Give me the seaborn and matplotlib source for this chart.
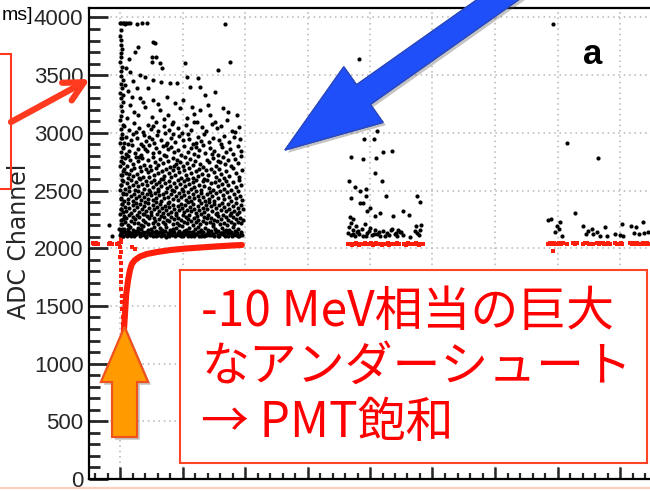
import matplotlib
matplotlib.use("Agg")
import matplotlib.pyplot as plt
from matplotlib import font_manager, patches, patheffects
from matplotlib.ticker import MultipleLocator
import pandas as pd
import seaborn as sns

# ---------------------------------------------------------------- data
# (time, ADC) of the black hits in the first burst
burst1_hits = [
    # saturated row
    (0.00, 3952), (0.02, 3948), (0.04, 3955), (0.06, 3950), (0.08, 3946), (0.10, 3953),
    (0.13, 3949), (0.16, 3951), (0.27, 3947), (0.35, 3950), (0.43, 3953), (1.68, 3943),
    # column at the very start of the burst
    (0.01, 3890), (0.00, 3842), (0.02, 3801), (0.01, 3763), (0.03, 3728), (0.01, 3690),
    (0.02, 3655), (0.00, 3611), (0.03, 3574), (0.01, 3538), (0.02, 3497), (0.04, 3459),
    (0.01, 3421), (0.03, 3386), (0.00, 3344), (0.02, 3302), (0.04, 3268), (0.01, 3229),
    (0.03, 3187), (0.02, 3146), (0.00, 3108), (0.04, 3071), (0.01, 3032), (0.03, 2991),
    (0.02, 2953), (0.00, 2912), (0.04, 2874), (0.01, 2836), (0.03, 2793), (0.02, 2755),
    (0.00, 2716), (0.04, 2672), (0.01, 2633), (0.03, 2592), (0.02, 2551), (0.00, 2509),
    (0.04, 2468), (0.01, 2427), (0.03, 2383), (0.02, 2341), (0.00, 2298), (0.04, 2254),
    (0.01, 2211), (0.03, 2167), (0.02, 2126),
    # sparse upper part
    (0.29, 3745), (0.53, 3788), (0.56, 3779), (0.51, 3658), (0.51, 3615), (0.58, 3658),
    (0.64, 3607), (0.67, 3563), (1.04, 3607), (1.76, 3615), (1.57, 3546), (0.32, 3503),
    (0.16, 3529), (0.40, 3486), (0.53, 3460), (0.66, 3443), (0.80, 3434), (0.91, 3434),
    (1.07, 3486), (1.12, 3400), (1.25, 3477), (1.36, 3330), (1.52, 3356), (1.28, 3400),
    (0.27, 3391), (0.45, 3391), (0.08, 3417), (0.05, 3330), (0.19, 3313), (0.32, 3305),
    (0.53, 3287), (0.75, 3313), (0.88, 3261), (1.01, 3287), (1.15, 3227), (1.28, 3201),
    (1.44, 3158), (1.65, 3218), (1.73, 3184), (1.87, 3158), (1.71, 3115), (1.84, 3011),
    (0.16, 3244), (0.40, 3227), (0.64, 3201), (0.96, 3218), (0.29, 3158), (0.51, 3141),
    (0.77, 3158), (1.07, 3132), (1.23, 3097), (0.85, 3097), (0.11, 3132), (1.52, 3097),
    (0.22, 3178), (0.61, 3252), (0.70, 3121), (1.18, 3160), (1.40, 3245), (0.36, 3270),
    (0.12, 3365), (0.20, 3452), (0.09, 3560), (0.14, 3640), (0.24, 3700),
    # 3000 - 3100
    (0.07, 3062), (0.14, 3021), (0.22, 3088), (0.31, 3045), (0.36, 3007), (0.44, 3071),
    (0.49, 3033), (0.58, 3094), (0.61, 3012), (0.70, 3056), (0.78, 3029), (0.83, 3080),
    (0.92, 3041), (0.99, 3003), (1.06, 3067), (1.13, 3024), (1.19, 3090), (1.31, 3052),
    (1.38, 3015), (1.47, 3076), (1.55, 3038), (1.62, 3060), (1.79, 3019), (1.90, 3049),
    (0.26, 3010), (0.53, 3058),
    # 2900 - 3000
    (0.06, 2914), (0.10, 2968), (0.17, 2937), (0.20, 2991), (0.27, 2952), (0.33, 2905),
    (0.38, 2979), (0.42, 2928), (0.47, 2963), (0.55, 2916), (0.59, 2984), (0.66, 2941),
    (0.72, 2997), (0.75, 2909), (0.81, 2956), (0.88, 2923), (0.94, 2975), (1.01, 2934),
    (1.08, 2988), (1.11, 2947), (1.17, 2902), (1.24, 2966), (1.29, 2931), (1.35, 2994),
    (1.42, 2918), (1.49, 2959), (1.58, 2942), (1.66, 2977), (1.74, 2925), (1.83, 2961),
    (1.92, 2946), (0.13, 2901), (0.51, 2948), (0.85, 2987), (1.21, 2912), (1.61, 2903),
    (0.03, 2955),
    # 2800 - 2900
    (0.05, 2871), (0.09, 2818), (0.15, 2846), (0.19, 2893), (0.24, 2827), (0.29, 2864),
    (0.34, 2809), (0.37, 2882), (0.43, 2841), (0.46, 2897), (0.52, 2823), (0.57, 2868),
    (0.63, 2835), (0.68, 2889), (0.71, 2812), (0.77, 2857), (0.82, 2876), (0.87, 2831),
    (0.93, 2848), (0.97, 2805), (1.03, 2884), (1.09, 2838), (1.14, 2866), (1.18, 2815),
    (1.26, 2851), (1.32, 2895), (1.36, 2827), (1.44, 2873), (1.51, 2842), (1.56, 2806),
    (1.63, 2879), (1.69, 2835), (1.76, 2861), (1.81, 2819), (1.88, 2887), (1.94, 2844),
    (0.12, 2803), (0.40, 2859), (0.74, 2898), (1.22, 2879), (1.47, 2813),
    # 2700 - 2800
    (0.04, 2742), (0.08, 2786), (0.11, 2713), (0.16, 2767), (0.21, 2731), (0.25, 2795),
    (0.28, 2752), (0.32, 2706), (0.35, 2778), (0.39, 2725), (0.45, 2761), (0.48, 2709),
    (0.53, 2789), (0.56, 2744), (0.60, 2718), (0.64, 2772), (0.69, 2736), (0.73, 2799),
    (0.76, 2753), (0.80, 2704), (0.84, 2781), (0.89, 2729), (0.91, 2765), (0.96, 2747),
    (1.00, 2712), (1.04, 2791), (1.07, 2738), (1.12, 2774), (1.16, 2721), (1.20, 2759),
    (1.25, 2796), (1.28, 2733), (1.33, 2708), (1.39, 2769), (1.43, 2745), (1.48, 2783),
    (1.53, 2716), (1.57, 2757), (1.64, 2792), (1.68, 2727), (1.72, 2763), (1.78, 2711),
    (1.84, 2776), (1.89, 2740), (1.93, 2798), (0.30, 2790), (0.86, 2710), (1.60, 2749),
    # 2600 - 2700
    (0.03, 2631), (0.06, 2685), (0.10, 2652), (0.13, 2609), (0.17, 2674), (0.20, 2628),
    (0.23, 2697), (0.27, 2643), (0.30, 2606), (0.33, 2668), (0.36, 2621), (0.41, 2689),
    (0.44, 2657), (0.47, 2614), (0.50, 2679), (0.54, 2636), (0.58, 2693), (0.61, 2648),
    (0.65, 2603), (0.67, 2671), (0.71, 2625), (0.74, 2686), (0.78, 2655), (0.81, 2617),
    (0.85, 2682), (0.88, 2639), (0.92, 2699), (0.95, 2661), (0.98, 2608), (1.02, 2676),
    (1.05, 2633), (1.10, 2694), (1.13, 2650), (1.17, 2612), (1.21, 2669), (1.24, 2627),
    (1.27, 2688), (1.31, 2645), (1.34, 2602), (1.38, 2678), (1.41, 2634), (1.45, 2691),
    (1.50, 2659), (1.54, 2619), (1.59, 2684), (1.62, 2641), (1.67, 2605), (1.70, 2672),
    (1.75, 2629), (1.80, 2696), (1.85, 2653), (1.91, 2615), (1.95, 2681), (0.15, 2640),
    (1.08, 2603),
    # 2500 - 2600
    (0.02, 2546), (0.05, 2583), (0.08, 2517), (0.11, 2569), (0.14, 2532), (0.18, 2594),
    (0.21, 2551), (0.24, 2508), (0.26, 2576), (0.29, 2539), (0.32, 2597), (0.35, 2561),
    (0.38, 2514), (0.41, 2582), (0.43, 2544), (0.46, 2505), (0.49, 2571), (0.52, 2528),
    (0.55, 2589), (0.57, 2553), (0.60, 2511), (0.63, 2577), (0.66, 2536), (0.69, 2598),
    (0.72, 2562), (0.75, 2519), (0.78, 2585), (0.80, 2541), (0.83, 2503), (0.86, 2567),
    (0.90, 2529), (0.93, 2592), (0.96, 2555), (0.99, 2516), (1.02, 2579), (1.04, 2537),
    (1.07, 2599), (1.10, 2558), (1.13, 2512), (1.16, 2574), (1.19, 2533), (1.22, 2595),
    (1.26, 2549), (1.29, 2507), (1.32, 2581), (1.35, 2543), (1.39, 2588), (1.42, 2521),
    (1.46, 2565), (1.49, 2502), (1.52, 2576), (1.56, 2538), (1.59, 2593), (1.63, 2556),
    (1.66, 2513), (1.70, 2584), (1.73, 2547), (1.77, 2509), (1.81, 2571), (1.86, 2535),
    (1.90, 2590), (1.94, 2552),
    # 2400 - 2500
    (0.02, 2436), (0.04, 2481), (0.07, 2413), (0.09, 2467), (0.12, 2428), (0.15, 2494),
    (0.17, 2451), (0.20, 2407), (0.22, 2472), (0.25, 2439), (0.28, 2498), (0.30, 2455),
    (0.33, 2416), (0.35, 2483), (0.38, 2442), (0.40, 2404), (0.43, 2469), (0.45, 2431),
    (0.48, 2491), (0.50, 2458), (0.53, 2419), (0.56, 2476), (0.58, 2437), (0.61, 2499),
    (0.63, 2461), (0.66, 2410), (0.68, 2473), (0.71, 2434), (0.73, 2488), (0.76, 2447),
    (0.79, 2402), (0.81, 2466), (0.84, 2425), (0.87, 2495), (0.89, 2452), (0.92, 2414),
    (0.94, 2479), (0.97, 2440), (1.00, 2497), (1.03, 2459), (1.05, 2421), (1.08, 2484),
    (1.11, 2445), (1.14, 2408), (1.16, 2470), (1.19, 2432), (1.22, 2493), (1.25, 2456),
    (1.27, 2417), (1.30, 2480), (1.33, 2443), (1.36, 2406), (1.39, 2468), (1.42, 2429),
    (1.44, 2490), (1.47, 2453), (1.50, 2411), (1.53, 2475), (1.57, 2438), (1.60, 2496),
    (1.64, 2460), (1.67, 2423), (1.71, 2486), (1.74, 2448), (1.78, 2409), (1.82, 2471),
    (1.85, 2433), (1.88, 2492), (1.92, 2457), (1.95, 2418),
    # 2300 - 2400
    (0.01, 2338), (0.03, 2384), (0.05, 2312), (0.08, 2361), (0.10, 2327), (0.13, 2396),
    (0.15, 2349), (0.18, 2305), (0.20, 2373), (0.23, 2331), (0.25, 2392), (0.27, 2356),
    (0.30, 2318), (0.32, 2380), (0.35, 2342), (0.37, 2301), (0.39, 2367), (0.42, 2325),
    (0.44, 2389), (0.47, 2352), (0.49, 2314), (0.52, 2376), (0.54, 2337), (0.57, 2398),
    (0.59, 2360), (0.62, 2321), (0.64, 2385), (0.67, 2346), (0.69, 2307), (0.72, 2370),
    (0.74, 2333), (0.77, 2393), (0.79, 2355), (0.82, 2316), (0.84, 2378), (0.87, 2340),
    (0.89, 2303), (0.92, 2364), (0.94, 2328), (0.97, 2387), (0.99, 2350), (1.02, 2311),
    (1.04, 2374), (1.07, 2335), (1.09, 2397), (1.12, 2358), (1.14, 2320), (1.17, 2382),
    (1.19, 2344), (1.22, 2306), (1.24, 2369), (1.27, 2330), (1.29, 2391), (1.32, 2353),
    (1.34, 2315), (1.37, 2377), (1.39, 2339), (1.42, 2399), (1.45, 2362), (1.47, 2323),
    (1.50, 2386), (1.53, 2347), (1.55, 2309), (1.58, 2371), (1.61, 2334), (1.63, 2394),
    (1.66, 2357), (1.69, 2319), (1.72, 2381), (1.74, 2343), (1.77, 2304), (1.80, 2366),
    (1.83, 2326), (1.85, 2388), (1.88, 2351), (1.91, 2313), (1.93, 2375), (1.96, 2336),
    # 2200 - 2300
    (0.01, 2247), (0.03, 2212), (0.06, 2283), (0.08, 2229), (0.10, 2264), (0.13, 2205),
    (0.15, 2291), (0.17, 2238), (0.20, 2272), (0.22, 2216), (0.24, 2255), (0.27, 2288),
    (0.29, 2223), (0.31, 2269), (0.33, 2202), (0.36, 2244), (0.38, 2297), (0.40, 2231),
    (0.43, 2276), (0.45, 2210), (0.47, 2258), (0.50, 2285), (0.52, 2219), (0.54, 2263),
    (0.56, 2236), (0.59, 2294), (0.61, 2207), (0.63, 2250), (0.66, 2281), (0.68, 2226),
    (0.70, 2267), (0.72, 2213), (0.75, 2242), (0.77, 2299), (0.79, 2234), (0.82, 2275),
    (0.84, 2208), (0.86, 2253), (0.89, 2289), (0.91, 2221), (0.93, 2261), (0.95, 2204),
    (0.98, 2246), (1.00, 2292), (1.02, 2228), (1.05, 2270), (1.07, 2215), (1.09, 2257),
    (1.11, 2286), (1.14, 2239), (1.16, 2201), (1.18, 2266), (1.21, 2224), (1.23, 2280),
    (1.25, 2248), (1.28, 2211), (1.30, 2295), (1.32, 2233), (1.34, 2274), (1.37, 2218),
    (1.39, 2259), (1.41, 2287), (1.44, 2227), (1.46, 2262), (1.48, 2206), (1.50, 2243),
    (1.53, 2298), (1.55, 2235), (1.57, 2278), (1.60, 2214), (1.62, 2252), (1.64, 2290),
    (1.67, 2222), (1.69, 2268), (1.71, 2203), (1.73, 2245), (1.76, 2284), (1.78, 2230),
    (1.80, 2273), (1.83, 2209), (1.85, 2256), (1.87, 2293), (1.89, 2225), (1.92, 2265),
    (1.94, 2217), (1.96, 2249),
    # 2100 - 2200
    (0.00, 2118), (0.02, 2152), (0.04, 2104), (0.05, 2137), (0.07, 2171), (0.09, 2126),
    (0.11, 2109), (0.12, 2163), (0.14, 2141), (0.16, 2185), (0.18, 2113), (0.19, 2131),
    (0.21, 2158), (0.23, 2102), (0.25, 2147), (0.26, 2122), (0.28, 2176), (0.30, 2135),
    (0.32, 2107), (0.34, 2166), (0.35, 2128), (0.37, 2193), (0.39, 2116), (0.41, 2144),
    (0.42, 2101), (0.44, 2155), (0.46, 2133), (0.48, 2119), (0.49, 2169), (0.51, 2140),
    (0.53, 2106), (0.55, 2182), (0.57, 2124), (0.58, 2150), (0.60, 2111), (0.62, 2138),
    (0.64, 2174), (0.65, 2103), (0.67, 2160), (0.69, 2129), (0.71, 2115), (0.72, 2147),
    (0.74, 2188), (0.76, 2121), (0.78, 2105), (0.80, 2157), (0.81, 2136), (0.83, 2112),
    (0.85, 2168), (0.87, 2143), (0.88, 2108), (0.90, 2179), (0.92, 2126), (0.94, 2153),
    (0.95, 2117), (0.97, 2134), (0.99, 2196), (1.01, 2110), (1.03, 2149), (1.04, 2123),
    (1.06, 2161), (1.08, 2102), (1.10, 2139), (1.11, 2172), (1.13, 2114), (1.15, 2145),
    (1.17, 2130), (1.18, 2106), (1.20, 2164), (1.22, 2120), (1.24, 2187), (1.26, 2137),
    (1.27, 2109), (1.29, 2154), (1.31, 2125), (1.33, 2142), (1.34, 2103), (1.36, 2175),
    (1.38, 2118), (1.40, 2159), (1.41, 2132), (1.43, 2111), (1.45, 2148), (1.47, 2127),
    (1.49, 2190), (1.50, 2104), (1.52, 2166), (1.54, 2139), (1.56, 2116), (1.57, 2151),
    (1.59, 2108), (1.61, 2134), (1.63, 2178), (1.64, 2121), (1.66, 2146), (1.68, 2102),
    (1.70, 2162), (1.72, 2129), (1.73, 2113), (1.75, 2156), (1.77, 2140), (1.79, 2107),
    (1.80, 2183), (1.82, 2124), (1.84, 2150), (1.86, 2115), (1.87, 2136), (1.89, 2170),
    (1.91, 2105), (1.93, 2145), (1.95, 2119),
    # dense lower edge
    (0.01, 2128), (0.05, 2110), (0.09, 2141), (0.13, 2119), (0.17, 2103), (0.21, 2134),
    (0.25, 2125), (0.29, 2146), (0.33, 2112), (0.37, 2138), (0.41, 2106), (0.45, 2131),
    (0.49, 2121), (0.53, 2143), (0.57, 2108), (0.61, 2127), (0.65, 2139), (0.69, 2115),
    (0.73, 2101), (0.77, 2133), (0.81, 2124), (0.85, 2148), (0.89, 2113), (0.93, 2136),
    (0.97, 2105), (1.01, 2129), (1.05, 2142), (1.09, 2118), (1.13, 2109), (1.17, 2137),
    (1.21, 2123), (1.25, 2145), (1.29, 2104), (1.33, 2130), (1.37, 2116), (1.41, 2140),
    (1.45, 2111), (1.49, 2126), (1.53, 2149), (1.57, 2107), (1.61, 2135), (1.65, 2120),
    (1.69, 2144), (1.73, 2102), (1.77, 2132), (1.81, 2117), (1.85, 2139), (1.89, 2110),
    (1.93, 2127),
    # just before the burst
    (-0.18, 2200), (-0.13, 2105), (-0.02, 2166),
]

# (time, ADC) of the black hits in the second burst
burst2_hits = [
    (3.82, 3641), (4.11, 3020), (3.90, 2951), (4.06, 2951), (3.70, 2795), (3.89, 2770),
    (4.10, 2778), (4.21, 2830), (4.35, 2847), (4.08, 2649), (4.19, 2580), (3.66, 2580),
    (3.76, 2528), (3.84, 2493), (3.94, 2511), (3.70, 2433), (3.94, 2450), (4.26, 2450),
    (3.84, 2390), (3.89, 2390), (4.00, 2347), (3.95, 2321), (4.16, 2304), (4.75, 2450),
    (4.80, 2399), (4.53, 2321), (4.62, 2286), (4.08, 2278), (4.37, 2278), (3.68, 2269),
    (3.73, 2252), (3.70, 2217), (3.78, 2192), (3.92, 2209), (4.74, 2192), (4.82, 2200),
    (3.65, 2131), (3.70, 2112), (3.73, 2158), (3.76, 2104), (3.79, 2143), (3.82, 2122),
    (3.87, 2167), (3.89, 2109), (3.95, 2136), (3.98, 2151), (4.03, 2118), (4.08, 2162),
    (4.11, 2127), (4.16, 2105), (4.21, 2147), (4.27, 2133), (4.30, 2114), (4.35, 2169),
    (4.40, 2124), (4.43, 2108), (4.45, 2155), (4.50, 2139), (4.53, 2117), (4.64, 2101),
    (4.72, 2146), (4.75, 2128), (4.80, 2160),
    (3.67, 2180), (3.72, 2121), (3.80, 2150), (3.93, 2108), (4.00, 2175), (4.06, 2124),
    (4.14, 2139), (4.24, 2110), (4.33, 2162), (4.42, 2129), (4.48, 2145), (4.78, 2118),
]

# (time, ADC) of the black hits in the third burst
burst3_hits = [
    (6.93, 3943), (7.15, 2908), (7.65, 2778), (7.28, 2304), (6.85, 2243), (6.90, 2252),
    (7.04, 2226), (6.99, 2192), (7.02, 2166), (7.07, 2105), (6.96, 2140), (7.41, 2192),
    (7.55, 2166), (7.49, 2148), (7.46, 2123), (7.57, 2123), (7.76, 2183), (7.63, 2140),
    (7.68, 2105), (7.79, 2105), (8.03, 2209), (7.92, 2123), (8.00, 2114), (8.05, 2105),
    (8.18, 2192), (8.26, 2183), (8.37, 2226), (8.22, 2131), (8.30, 2123), (8.38, 2131),
    (8.45, 2140),
]

# centre line of the undershoot after the first burst (time, ADC)
undershoot_t = [0.06, 0.08, 0.10, 0.13, 0.16, 0.19, 0.24, 0.32, 0.43, 0.59,
                0.80, 1.04, 1.28, 1.52, 1.76, 1.95]
undershoot_adc = [1260, 1432, 1605, 1726, 1812, 1864, 1898, 1928, 1950, 1967,
                  1984, 1997, 2006, 2015, 2023, 2028]

# red pedestal readings (time, ADC)
pedestal_hits = [
    # before / at the start of the first burst
    (-0.43, 2045), (-0.41, 2040), (-0.38, 2047), (-0.36, 2041), (-0.18, 2036), (-0.16, 2044),
    (-0.13, 2039), (-0.05, 2038), (-0.02, 2046), (0.01, 2078), (0.02, 2050), (0.00, 2012),
    (0.01, 1968), (0.00, 1921), (0.01, 1872), (0.02, 1815), (0.01, 1762), (0.02, 1704),
    (0.02, 1648), (0.03, 1590), (0.03, 1530), (0.03, 1470), (0.04, 1405), (0.04, 1340),
    (0.24, 1995), (0.19, 2010),
    # second burst
    (3.65, 2036), (3.68, 2041), (3.71, 2032), (3.74, 2038), (3.77, 2044), (3.80, 2035),
    (3.83, 2030), (3.86, 2040), (3.89, 2037), (3.92, 2043), (3.95, 2033), (3.98, 2039),
    (4.01, 2045), (4.04, 2031), (4.07, 2036), (4.10, 2042), (4.13, 2034), (4.16, 2038),
    (4.19, 2029), (4.22, 2041), (4.25, 2037), (4.28, 2044), (4.31, 2032), (4.34, 2039),
    (4.37, 2035), (4.40, 2040), (4.43, 2043), (4.46, 2033), (4.55, 2038), (4.58, 2031),
    (4.61, 2042), (4.64, 2036), (4.67, 2040), (4.70, 2034), (4.73, 2045), (4.76, 2037),
    (4.79, 2030), (4.82, 2041), (4.85, 2035),
    # third burst
    (6.85, 2040), (6.88, 2046), (6.91, 2037), (6.94, 2043), (6.97, 2035), (7.00, 2041),
    (7.03, 2048), (7.06, 2038), (7.09, 2044), (7.15, 2039), (7.25, 2042), (7.28, 2036),
    (7.31, 2045), (7.41, 2038), (7.44, 2043), (7.47, 2047), (7.50, 2036), (7.53, 2041),
    (7.56, 2039), (7.63, 2044), (7.66, 2037), (7.69, 2042), (7.72, 2048), (7.75, 2035),
    (7.78, 2040), (7.81, 2046), (7.84, 2038), (7.92, 2043), (7.95, 2036), (7.98, 2041),
    (8.01, 2047), (8.04, 2039), (8.16, 2044), (8.19, 2037), (8.22, 2042), (8.25, 2035),
    (8.28, 2046), (8.31, 2040), (8.34, 2038), (8.37, 2043), (8.40, 2036), (8.43, 2045),
    (8.46, 2041), (8.49, 2039), (6.93, 1976),
]

y_major_ticks = [0, 500, 1000, 1500, 2000, 2500, 3000, 3500, 4000]
note_lines = ["-10 MeV相当の巨大", "なアンダーシュート", "→ PMT飽和"]

# ---------------------------------------------------------------- style
sns.set_style("white")
installed = {f.name for f in font_manager.fontManager.ttflist}
narrow = "Liberation Sans Narrow" if "Liberation Sans Narrow" in installed else "Liberation Sans"
tick_size = 19 if narrow == "Liberation Sans Narrow" else 16
plt.rcParams["font.family"] = ["Liberation Sans", "DejaVu Sans"]
jp_font = ["Noto Sans CJK JP", "DejaVu Sans"]

RED = "#ff1e0a"
BOX_RED = "#ff4325"

fig = plt.figure(figsize=(6.5, 4.91), dpi=100)
W, H = 650, 491
ax = fig.add_axes([89 / W, 12 / H, 593.5 / W, 471 / H])

hits = pd.DataFrame(burst1_hits + burst2_hits + burst3_hits, columns=["t", "adc"])
pedestal = pd.DataFrame(pedestal_hits, columns=["t", "adc"])
undershoot = pd.DataFrame({"t": undershoot_t, "adc": undershoot_adc})

sns.lineplot(data=undershoot, x="t", y="adc", estimator=None, sort=False,
             color=RED, linewidth=4.4, ax=ax, zorder=3)
sns.scatterplot(data=pedestal, x="t", y="adc", color=RED, s=8, marker="s",
                linewidth=0, ax=ax, zorder=3)
sns.scatterplot(data=hits, x="t", y="adc", color="black", s=9, linewidth=0,
                ax=ax, zorder=4)

ax.set_xlim(-0.496, 9.0)
ax.set_ylim(0, 4082)
ax.set_xlabel("")
ax.set_ylabel("ADC Channel", fontsize=17, family=["DejaVu Sans"])
ax.yaxis.set_label_coords(-0.118, 0.505)
ax.yaxis.label.set_va("center")

ax.set_yticks(y_major_ticks)
ax.yaxis.set_minor_locator(MultipleLocator(100))
ax.xaxis.set_major_locator(MultipleLocator(1))
ax.xaxis.set_minor_locator(MultipleLocator(0.2))
ax.tick_params(axis="y", which="major", direction="in", length=14, width=2,
               labelsize=tick_size, pad=4, labelfontfamily=narrow, left=True)
ax.tick_params(axis="y", which="minor", direction="in", length=8, width=2, left=True)
ax.tick_params(axis="x", which="major", direction="in", length=8.5, width=1.8,
               labelbottom=False, bottom=True)
ax.tick_params(axis="x", which="minor", direction="in", length=4.5, width=1.6, bottom=True)

ax.grid(True, which="major", color="#b5b5b5", linestyle=(0, (1, 2.5)), linewidth=1.1)
ax.set_axisbelow(True)
for side in ("left", "bottom", "top"):
    ax.spines[side].set_linewidth(1.6)
    ax.spines[side].set_color("black")
ax.spines["right"].set_visible(False)

# ---------------------------------------------------------------- annotations (pixel space)
ov = fig.add_axes([0, 0, 1, 1], zorder=10)
ov.set_xlim(0, W)
ov.set_ylim(H, 0)
ov.axis("off")

shadow = [patheffects.withSimplePatchShadow(offset=(2, -2), alpha=0.35, shadow_rgbFace="#555555"),
          patheffects.Normal()]

blue_arrow = patches.FancyArrow(530, -23, -245, 173, width=24, head_width=68, head_length=96,
                                length_includes_head=True, facecolor="#1f4ff8",
                                edgecolor="#2a48c0", linewidth=1.0)
blue_arrow.set_path_effects(shadow)
ov.add_patch(blue_arrow)

orange_arrow = patches.FancyArrow(124.5, 437, 0, -110, width=25, head_width=47, head_length=55,
                                  length_includes_head=True, facecolor="#ff9a00",
                                  edgecolor="#f0521e", linewidth=1.5)
orange_arrow.set_path_effects(shadow)
ov.add_patch(orange_arrow)

ov.annotate("", xy=(90, 79), xytext=(11, 122),
            arrowprops=dict(arrowstyle="->,head_length=0.7,head_width=0.36", lw=4.5,
                            color="#ff3a1e", shrinkA=0, shrinkB=0, mutation_scale=20))
ov.add_patch(patches.Rectangle((-10, 54), 21, 135, fill=False, edgecolor="#ff3a1e", linewidth=1.5))

ov.add_patch(patches.Rectangle((180, 270), 467, 193, facecolor="white",
                               edgecolor=BOX_RED, linewidth=1.5))
for y, line in zip([312, 367, 423], note_lines):
    ov.text(201, y, line, color="#ff0000", fontsize=34.5, family=jp_font,
            ha="left", va="center")

ov.text(593, 54, "a", fontsize=25, fontweight="bold", family=narrow,
        ha="center", va="center", color="black")
ov.text(33, 20, "ms]", fontsize=14, ha="right", va="baseline", color="black")
ov.plot([0, W], [488, 488], color="#ffcdbd", linewidth=1.5)

fig.savefig("out.png", dpi=100, facecolor="white")
